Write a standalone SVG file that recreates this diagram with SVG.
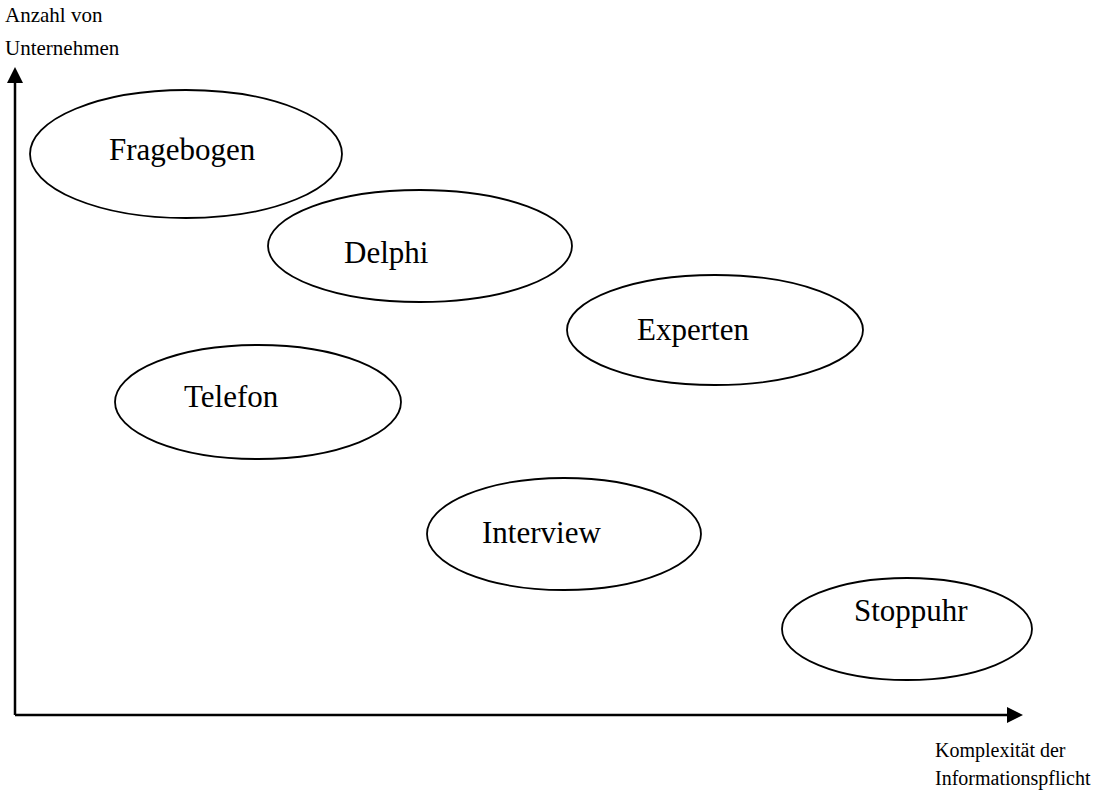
<svg xmlns="http://www.w3.org/2000/svg" width="1094" height="798" viewBox="0 0 1094 798">
<style>
.n ellipse{fill:#fff;stroke:#000;stroke-width:1.8}
.n text{font-family:"Liberation Serif","Times New Roman",serif;font-size:31px;fill:#000}
.ax{font-family:"Liberation Serif","Times New Roman",serif;font-size:21px;fill:#000}
.bx{font-family:"Liberation Serif","Times New Roman",serif;font-size:20px;fill:#000}
.axis{stroke:#000;stroke-width:2.5;fill:none}
</style>
<defs>
<marker id="arr" viewBox="0 0 10 10" refX="0" refY="5" markerWidth="16" markerHeight="16" markerUnits="userSpaceOnUse" orient="auto">
<path d="M0,0 L10,5 L0,10 Z" fill="#000"/>
</marker>
</defs>
<rect width="1094" height="798" fill="#fff"/>
<g id="connectors">
<path class="axis" d="M15,715 L15,83" marker-end="url(#arr)"/>
<path class="axis" d="M15,715 L1007,715" marker-end="url(#arr)"/>
</g>
<g id="labels">
<text class="ax" x="5" y="22">Anzahl von</text>
<text class="ax" x="5" y="55">Unternehmen</text>
<text class="bx" x="935" y="757">Komplexität der</text>
<text class="bx" x="935" y="785">Informationspflicht</text>
</g>
<g id="fragebogen" class="n"><ellipse cx="186" cy="154" rx="156" ry="64"/><text x="109" y="160">Fragebogen</text></g>
<g id="delphi" class="n"><ellipse cx="420" cy="246" rx="152" ry="56"/><text x="344" y="263">Delphi</text></g>
<g id="experten" class="n"><ellipse cx="715" cy="330" rx="148" ry="55"/><text x="637" y="340">Experten</text></g>
<g id="telefon" class="n"><ellipse cx="258" cy="402" rx="143" ry="57"/><text x="184" y="407">Telefon</text></g>
<g id="interview" class="n"><ellipse cx="564" cy="534" rx="137" ry="56"/><text x="482" y="543">Interview</text></g>
<g id="stoppuhr" class="n"><ellipse cx="907" cy="629" rx="125" ry="51"/><text x="854" y="621">Stoppuhr</text></g>
</svg>
